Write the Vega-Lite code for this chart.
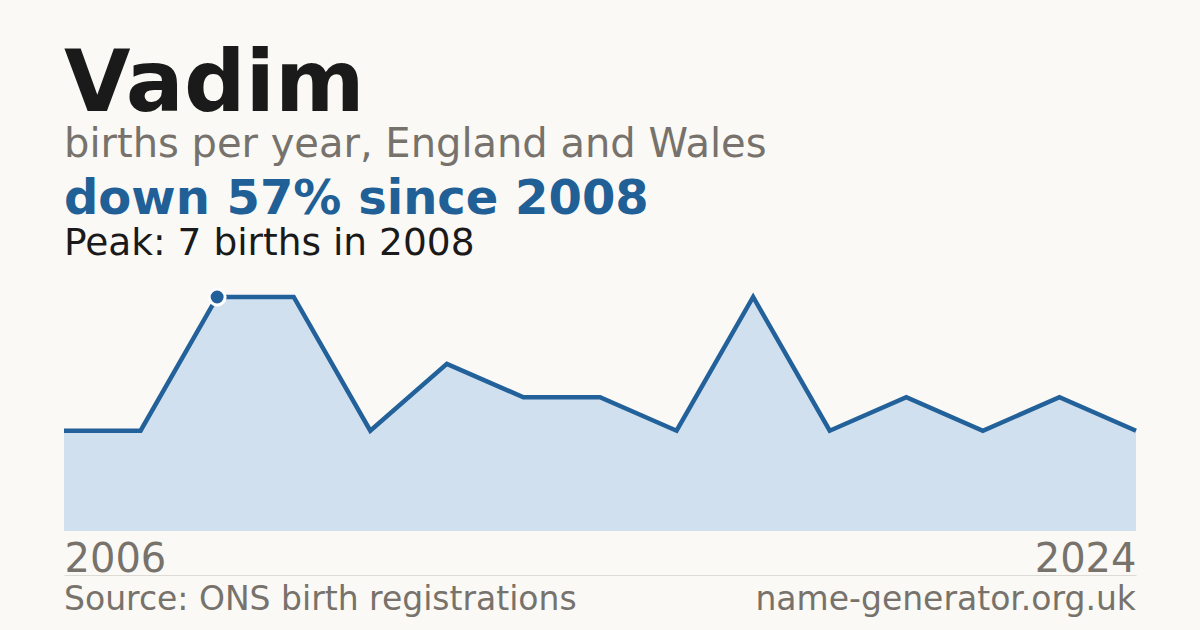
{
  "$schema": "https://vega.github.io/schema/vega-lite/v6.json",
  "background": "#faf9f5",
  "padding": {"left": 55, "right": 64, "top": 41, "bottom": 6},
  "autosize": {"type": "pad"},
  "config": {
    "view": {"stroke": null},
    "font": "DejaVu Sans"
  },
  "title": {
    "text": "Vadim",
    "subtitle": "births per year, England and Wales",
    "anchor": "start",
    "frame": "group",
    "font": "DejaVu Sans",
    "fontSize": 86,
    "fontWeight": "bold",
    "color": "#1a1a1a",
    "subtitleFont": "DejaVu Sans",
    "subtitleFontSize": 40,
    "subtitleColor": "#77726b",
    "subtitlePadding": -4,
    "offset": 10
  },
  "bounds": "flush",
  "spacing": 44,
  "vconcat": [
    {
      "width": 1072,
      "height": 234,
      "title": {
        "text": "down 57% since 2008",
        "subtitle": "Peak: 7 births in 2008",
        "anchor": "start",
        "frame": "group",
        "font": "DejaVu Sans",
        "fontSize": 48,
        "fontWeight": "bold",
        "color": "#216096",
        "subtitleFont": "DejaVu Sans",
        "subtitleFontSize": 37.5,
        "subtitleColor": "#1a1a1a",
        "subtitlePadding": 1,
        "offset": 21
      },
      "data": {
        "values": [
          {"year": 2006, "births": 3},
          {"year": 2007, "births": 3},
          {"year": 2008, "births": 7},
          {"year": 2009, "births": 7},
          {"year": 2010, "births": 3},
          {"year": 2011, "births": 5},
          {"year": 2012, "births": 4},
          {"year": 2013, "births": 4},
          {"year": 2014, "births": 3},
          {"year": 2016, "births": 7},
          {"year": 2017, "births": 3},
          {"year": 2019, "births": 4},
          {"year": 2020, "births": 3},
          {"year": 2022, "births": 4},
          {"year": 2024, "births": 3}
        ]
      },
      "encoding": {
        "x": {
          "field": "year",
          "type": "ordinal",
          "scale": {"type": "point", "padding": 0},
          "axis": {
            "values": [2006, 2024],
            "title": null,
            "domain": false,
            "ticks": false,
            "tickSize": 0,
            "grid": false,
            "labelAngle": 0,
            "labelFont": "DejaVu Sans",
            "labelFontSize": 40,
            "labelColor": "#77726b",
            "labelPadding": 8,
            "labelAlign": {"condition": {"test": "datum.value == 2006", "value": "left"}, "value": "right"}
          }
        },
        "y": {
          "field": "births",
          "type": "quantitative",
          "scale": {"domain": [0, 7], "nice": false},
          "axis": null
        }
      },
      "layer": [
        {"mark": {"type": "area", "color": "#d0e0ef"}},
        {"mark": {"type": "line", "color": "#22619a", "strokeWidth": 4.5}},
        {
          "transform": [{"filter": "datum.year == 2008"}],
          "mark": {"type": "point", "filled": true, "size": 255, "color": "#22619a", "stroke": "#ffffff", "strokeWidth": 3, "opacity": 1}
        }
      ]
    },
    {
      "width": 1072,
      "height": 50,
      "data": {
        "values": [
          {"side": "left", "label": "Source: ONS birth registrations"},
          {"side": "right", "label": "name-generator.org.uk"}
        ]
      },
      "encoding": {
        "x": {
          "field": "side",
          "type": "nominal",
          "scale": {"type": "point", "padding": 0, "domain": ["left", "right"]},
          "axis": {"orient": "top", "domain": true, "domainColor": "#dddbd5", "domainWidth": 1, "ticks": false, "labels": false, "title": null, "grid": false}
        },
        "text": {"field": "label"}
      },
      "layer": [
        {
          "transform": [{"filter": "datum.side == 'left'"}],
          "mark": {"type": "text", "align": "left", "baseline": "middle", "font": "DejaVu Sans", "fontSize": 33, "color": "#77726b"}
        },
        {
          "transform": [{"filter": "datum.side == 'right'"}],
          "mark": {"type": "text", "align": "right", "baseline": "middle", "font": "DejaVu Sans", "fontSize": 33, "color": "#77726b"}
        }
      ]
    }
  ]
}
